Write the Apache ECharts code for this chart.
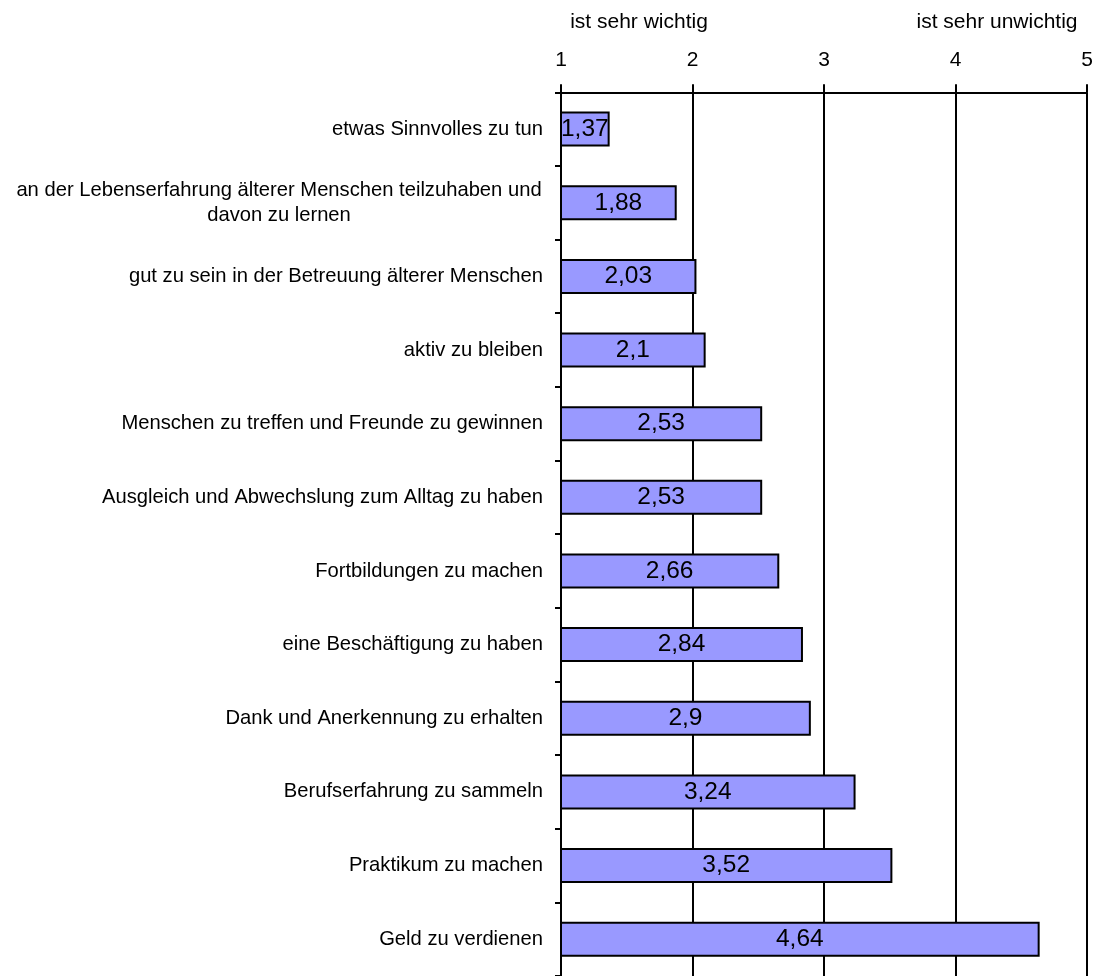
<!DOCTYPE html>
<html>
<head>
<meta charset="utf-8">
<script src="https://cdn.jsdelivr.net/npm/echarts@6/dist/echarts.min.js"></script>
<style>
html,body{margin:0;padding:0;background:#fff;}
#chart{width:1101px;height:976px;}
</style>
</head>
<body>
<div id="chart"></div>
<script>
const categories = [
  'etwas Sinnvolles zu tun',
  'an der Lebenserfahrung älterer Menschen teilzuhaben und\ndavon zu lernen',
  'gut zu sein in der Betreuung älterer Menschen',
  'aktiv zu bleiben',
  'Menschen zu treffen und Freunde zu gewinnen',
  'Ausgleich und Abwechslung zum Alltag zu haben',
  'Fortbildungen zu machen',
  'eine Beschäftigung zu haben',
  'Dank und Anerkennung zu erhalten',
  'Berufserfahrung zu sammeln',
  'Praktikum zu machen',
  'Geld zu verdienen'
];
const values = [1.37, 1.88, 2.03, 2.1, 2.53, 2.53, 2.66, 2.84, 2.9, 3.24, 3.52, 4.64];
const axisTicks = [1, 2, 3, 4, 5];
const leftHeader = 'ist sehr wichtig';
const rightHeader = 'ist sehr unwichtig';

const FONT = "'Liberation Sans', Arial, sans-serif";
const chart = echarts.init(document.getElementById('chart'), null, {renderer: 'canvas'});

chart.setOption({
  animation: false,
  backgroundColor: '#ffffff',
  textStyle: {fontFamily: FONT, color: '#000'},
  grid: {left: 561, right: 14, top: 92.3, height: 890.4, containLabel: false},
  graphic: [
    {type: 'text', x: 639, y: 22, style: {text: leftHeader, font: '21px ' + FONT, fill: '#000', textAlign: 'center', textVerticalAlign: 'middle'}},
    {type: 'text', x: 997, y: 22, style: {text: rightHeader, font: '21px ' + FONT, fill: '#000', textAlign: 'center', textVerticalAlign: 'middle'}}
  ],
  xAxis: {
    type: 'value',
    position: 'top',
    min: axisTicks[0],
    max: axisTicks[axisTicks.length - 1],
    interval: 1,
    axisLine: {show: true, lineStyle: {color: '#000', width: 2}},
    axisTick: {show: true, length: 8, lineStyle: {color: '#000', width: 2}},
    axisLabel: {fontSize: 21, color: '#000', fontFamily: FONT, margin: 22},
    splitLine: {show: true, lineStyle: {color: '#000', width: 2}}
  },
  yAxis: {
    type: 'category',
    inverse: true,
    data: categories,
    axisLine: {show: true, onZero: false, lineStyle: {color: '#000', width: 2}},
    axisTick: {show: true, length: 6, lineStyle: {color: '#000', width: 2}},
    axisLabel: {
      fontSize: 20.2,
      color: '#000',
      fontFamily: FONT,
      margin: 18,
      lineHeight: 25,
      formatter: function (v) {
        if (v.indexOf('\n') >= 0) {
          return v.split('\n').map(function (l) { return '{c|' + l + '}'; }).join('\n');
        }
        return v;
      },
      rich: {
        c: {width: 528, align: 'center', fontSize: 20.2, lineHeight: 25, fontFamily: FONT, color: '#000'}
      }
    },
    splitLine: {show: false}
  },
  series: [{
    type: 'bar',
    data: values,
    barWidth: 35,
    itemStyle: {color: '#9999ff', borderColor: '#000', borderWidth: 2},
    label: {
      show: true,
      position: 'inside',
      color: '#000',
      fontSize: 24.5,
      fontFamily: FONT,
      formatter: function (p) { return String(p.value).replace('.', ','); }
    }
  }]
});
</script>
</body>
</html>
